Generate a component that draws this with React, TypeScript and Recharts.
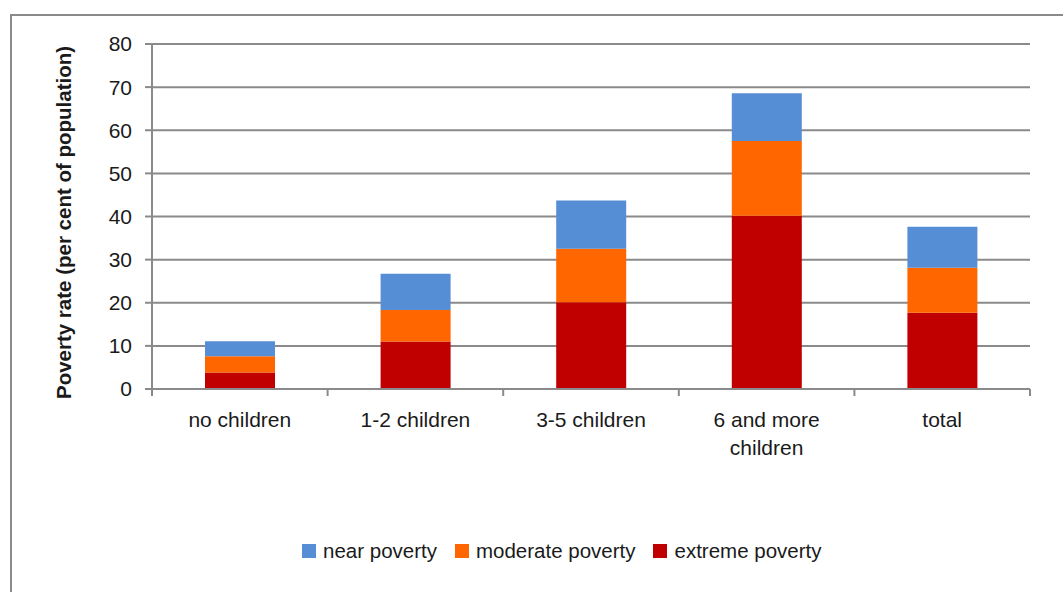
import { BarChart, Bar, XAxis, YAxis, CartesianGrid, Legend, Label } from 'recharts';

// Poverty rate by number of children, per cent of population
const categories = ['no children', '1-2 children', '3-5 children', '6 and more children', 'total'];
const extremePoverty = [3.8, 11.0, 20.1, 40.2, 17.7];
const moderatePoverty = [3.8, 7.3, 12.4, 17.3, 10.4];
const nearPoverty = [3.5, 8.4, 11.2, 11.1, 9.5];
const yTicks = [0, 10, 20, 30, 40, 50, 60, 70, 80];

const data = categories.map((name, i) => ({
  name,
  extreme: extremePoverty[i],
  moderate: moderatePoverty[i],
  near: nearPoverty[i],
}));

const GRID = '#8a8a8a';
const INK = '#1a1a1a';
const FONT = '"Liberation Sans", Arial, sans-serif';
const FONT_SIZE = 21;

// greedy word wrap by character count, long labels go on two lines
const wrapLabel = (label: string, maxChars = 14) => {
  const lines: string[] = [];
  let cur = '';
  label.split(' ').forEach((w) => {
    const next = cur ? `${cur} ${w}` : w;
    if (next.length > maxChars && cur) {
      lines.push(cur);
      cur = w;
    } else {
      cur = next;
    }
  });
  if (cur) lines.push(cur);
  return lines;
};

// category label plus tick marks on the band edges
const CategoryTick = (props: any) => {
  const { x, y, payload, index, visibleTicksCount } = props;
  const half = payload && payload.offset ? payload.offset : 87.8;
  const last = index === (visibleTicksCount ?? categories.length) - 1;
  const lines = wrapLabel(String(payload.value));
  return (
    <g>
      <line x1={x - half} x2={x - half} y1={y} y2={y + 7} stroke={GRID} strokeWidth={2} />
      {last && <line x1={x + half} x2={x + half} y1={y} y2={y + 7} stroke={GRID} strokeWidth={2} />}
      <text textAnchor="middle" fontSize={FONT_SIZE} fontFamily={FONT} fill={INK}>
        {lines.map((ln, i) => (
          <tspan key={i} x={x} y={y + 38 + i * 28}>
            {ln}
          </tspan>
        ))}
      </text>
    </g>
  );
};

const YTitle = (props: any) => {
  const { viewBox } = props;
  const cx = viewBox.x + 63;
  const cy = viewBox.y + viewBox.height / 2 + 6;
  return (
    <text
      transform={`translate(${cx}, ${cy}) rotate(-90)`}
      textAnchor="middle"
      dominantBaseline="central"
      fontWeight="bold"
      fontSize={20.5}
      fontFamily={FONT}
      fill={INK}
    >
      Poverty rate (per cent of population)
    </text>
  );
};

// legend reads top of stack first
const LegendRow = (props: any) => {
  const items = [...(props.payload || [])].reverse();
  return (
    <div style={{ display: 'flex', alignItems: 'center', height: 26, fontFamily: FONT, fontSize: 20.5, color: INK }}>
      {items.map((item: any, i: number) => (
        <div key={item.value} style={{ display: 'flex', alignItems: 'center', marginLeft: i === 0 ? 0 : 18 }}>
          <span style={{ width: 14, height: 14, background: item.color, display: 'inline-block', marginRight: 7 }} />
          <span>{item.value}</span>
        </div>
      ))}
    </div>
  );
};

export default function App() {
  return (
    <div
      style={{
        position: 'fixed',
        left: 0,
        top: 0,
        width: 1063,
        height: 592,
        overflow: 'hidden',
        background: '#fff',
        fontFamily: FONT,
      }}
    >
      <div
        style={{
          position: 'absolute',
          left: 10,
          top: 14,
          width: 1100,
          height: 700,
          border: `2px solid ${GRID}`,
        }}
      />
      <BarChart
        width={1063}
        height={592}
        data={data}
        margin={{ top: 44, right: 33, left: 0, bottom: 57 }}
        barSize={70}
        style={{ position: 'absolute', left: 0, top: 0 }}
      >
        <CartesianGrid vertical={false} stroke={GRID} strokeWidth={2} />
        <XAxis
          dataKey="name"
          interval={0}
          height={120}
          tickLine={false}
          tickSize={0}
          tickMargin={0}
          axisLine={{ stroke: GRID, strokeWidth: 2 }}
          tick={<CategoryTick />}
        />
        <YAxis
          width={152}
          domain={[0, 80]}
          ticks={yTicks}
          tickSize={7}
          tickMargin={13}
          axisLine={{ stroke: GRID, strokeWidth: 2 }}
          tickLine={{ stroke: GRID, strokeWidth: 2 }}
          tick={{ fill: INK, fontSize: FONT_SIZE, fontFamily: FONT }}
        >
          <Label content={<YTitle />} />
        </YAxis>
        <Legend
          verticalAlign="bottom"
          content={<LegendRow />}
          wrapperStyle={{ left: 302, top: 538, bottom: 'auto', width: 'auto' }}
        />
        <Bar dataKey="extreme" name="extreme poverty" stackId="p" fill="#c00000" isAnimationActive={false} />
        <Bar dataKey="moderate" name="moderate poverty" stackId="p" fill="#ff6600" isAnimationActive={false} />
        <Bar dataKey="near" name="near poverty" stackId="p" fill="#558ed5" isAnimationActive={false} />
      </BarChart>
    </div>
  );
}
